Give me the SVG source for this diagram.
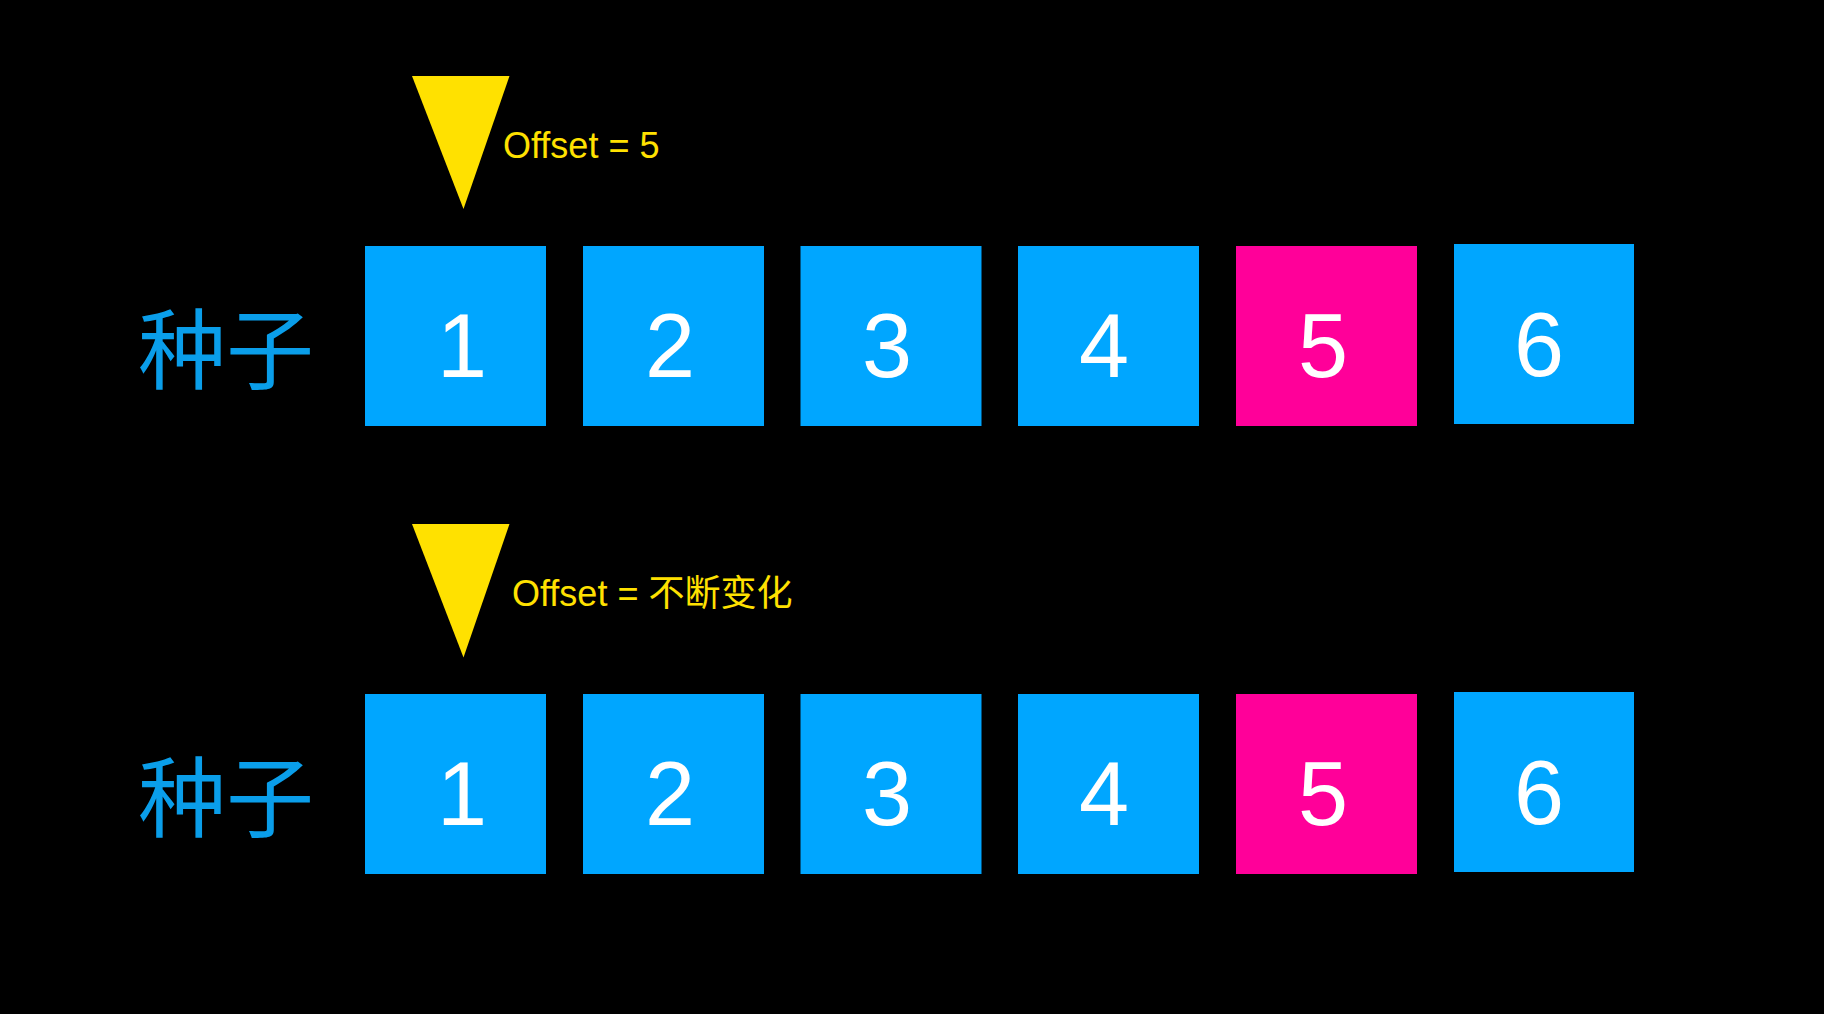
<svg xmlns="http://www.w3.org/2000/svg" width="1824" height="1014" viewBox="0 0 1824 1014">
<style>
.bg{fill:#000}
.box{fill:#00A6FF}
.hot{fill:#FF0099}
.num{font-family:"Liberation Sans",Arial,sans-serif;font-size:90px;fill:#fff;text-anchor:middle}
.lbl{font-family:"Noto Sans CJK SC","Noto Sans",sans-serif;font-size:88px;fill:#0A9EEA}
.ptr{fill:#FFE100}
.off{font-family:"Liberation Sans","Noto Sans CJK SC",sans-serif;font-size:36px;fill:#FFE100}
</style>
<rect class="bg" x="0" y="0" width="1824" height="1014"/>
<g id="row1">
  <g id="label1"><text class="lbl" x="138" y="382">种子</text></g>
  <g id="pointer1"><polygon class="ptr" points="412,76 509.5,76 463.5,209"/><text class="off" x="503" y="158">Offset = 5</text></g>
  <g id="r1n1"><rect class="box" x="365" y="246" width="181" height="180"/><text class="num" x="462" y="377">1</text></g>
  <g id="r1n2"><rect class="box" x="583" y="246" width="181" height="180"/><text class="num" x="670" y="377">2</text></g>
  <g id="r1n3"><rect class="box" x="800.5" y="246" width="181" height="180"/><text class="num" x="887" y="377">3</text></g>
  <g id="r1n4"><rect class="box" x="1018" y="246" width="181" height="180"/><text class="num" x="1104" y="377">4</text></g>
  <g id="r1n5"><rect class="hot" x="1236" y="246" width="181" height="180"/><text class="num" x="1323" y="377">5</text></g>
  <g id="r1n6"><rect class="box" x="1454" y="244" width="180" height="180"/><text class="num" x="1539" y="376">6</text></g>
</g>
<g id="row2">
  <g id="label2"><text class="lbl" x="138" y="830">种子</text></g>
  <g id="pointer2"><polygon class="ptr" points="412,524 509.5,524 463.5,657.5"/><text class="off" x="512" y="606">Offset = 不断变化</text></g>
  <g id="r2n1"><rect class="box" x="365" y="694" width="181" height="180"/><text class="num" x="462" y="825">1</text></g>
  <g id="r2n2"><rect class="box" x="583" y="694" width="181" height="180"/><text class="num" x="670" y="825">2</text></g>
  <g id="r2n3"><rect class="box" x="800.5" y="694" width="181" height="180"/><text class="num" x="887" y="825">3</text></g>
  <g id="r2n4"><rect class="box" x="1018" y="694" width="181" height="180"/><text class="num" x="1104" y="825">4</text></g>
  <g id="r2n5"><rect class="hot" x="1236" y="694" width="181" height="180"/><text class="num" x="1323" y="825">5</text></g>
  <g id="r2n6"><rect class="box" x="1454" y="692" width="180" height="180"/><text class="num" x="1539" y="824">6</text></g>
</g>
<g id="connectors"/>
</svg>
